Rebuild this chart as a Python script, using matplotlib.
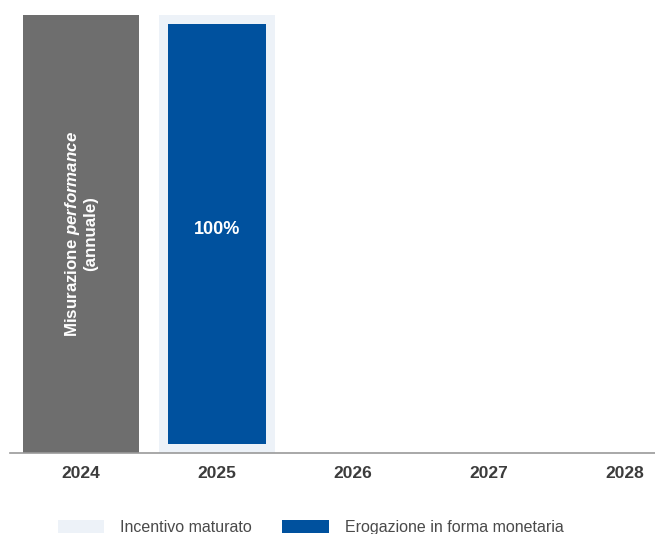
import matplotlib
matplotlib.use('Agg')
import matplotlib.pyplot as plt
from matplotlib.patches import Patch

plt.rcParams['font.family'] = ['Liberation Sans', 'DejaVu Sans']
plt.rcParams['mathtext.fontset'] = 'custom'
plt.rcParams['mathtext.bfit'] = 'Liberation Sans:bold:italic'
plt.rcParams['mathtext.bf'] = 'Liberation Sans:bold'
plt.rcParams['mathtext.it'] = 'Liberation Sans:italic'
plt.rcParams['mathtext.rm'] = 'Liberation Sans'

# data
years = ['2024', '2025', '2026', '2027', '2028']
misurazione = [1, 0, 0, 0, 0]          # performance measurement period
maturato = [0, 1, 0, 0, 0]             # incentive accrued
erogazione = [0, 100, 0, 0, 0]         # cash payout, percent
legend_labels = ['Incentivo maturato', 'Erogazione in forma monetaria']

grey = '#6e6e6e'
light = '#edf2f8'
blue = '#00519e'

fig = plt.figure(figsize=(6.55, 5.34), dpi=100)
ax = fig.add_axes([10 / 655, (534 - 453) / 534, 645 / 655, (453 - 14.7) / 534])

x = list(range(len(years)))
ax.bar(x, misurazione, width=0.855, color=grey, zorder=2)
ax.bar(x, maturato, width=0.86, color=light, zorder=1)
pad = 0.02
blue_h = [v / 100 * 0.958 for v in erogazione]
ax.bar(x, blue_h, width=0.72, bottom=pad, color=blue, zorder=3)

for i, v in enumerate(erogazione):
    if v:
        ax.text(i, pad + blue_h[i] / 2 + 0.01, f'{v}%', color='white', fontsize=13,
                fontweight='bold', ha='center', va='center', zorder=4)

for i, v in enumerate(misurazione):
    if v:
        ax.text(i - 0.005, 0.5, 'Misurazione $\\mathbfit{performance}$\n(annuale)', rotation=90,
                color='white', fontsize=12.2, fontweight='bold', ha='center', va='center',
                multialignment='center', linespacing=1.1, zorder=4)

ax.set_xlim(-71 / 136, 574 / 136)
ax.set_ylim(0, 1)
ax.set_xticks(x)
ax.set_xticklabels(years, fontsize=12.5, fontweight='bold', color='#3c3c3c')
ax.tick_params(axis='x', length=0, pad=9)
ax.set_yticks([])
for s in ['top', 'left', 'right']:
    ax.spines[s].set_visible(False)
ax.spines['bottom'].set_color('#9a9a9a')
ax.spines['bottom'].set_linewidth(1.2)

handles = [Patch(facecolor=light, edgecolor='none'), Patch(facecolor=blue, edgecolor='none')]
fig.legend(handles, legend_labels, loc='center left', bbox_to_anchor=(58 / 655, (534 - 527.5) / 534),
           bbox_transform=fig.transFigure, ncol=2, frameon=False, fontsize=11.5,
           handlelength=2.9, handleheight=0.9, handletextpad=1.0, columnspacing=1.9,
           borderpad=0, borderaxespad=0, labelcolor='#4a4a4a')

fig.savefig('out.png', dpi=100)
